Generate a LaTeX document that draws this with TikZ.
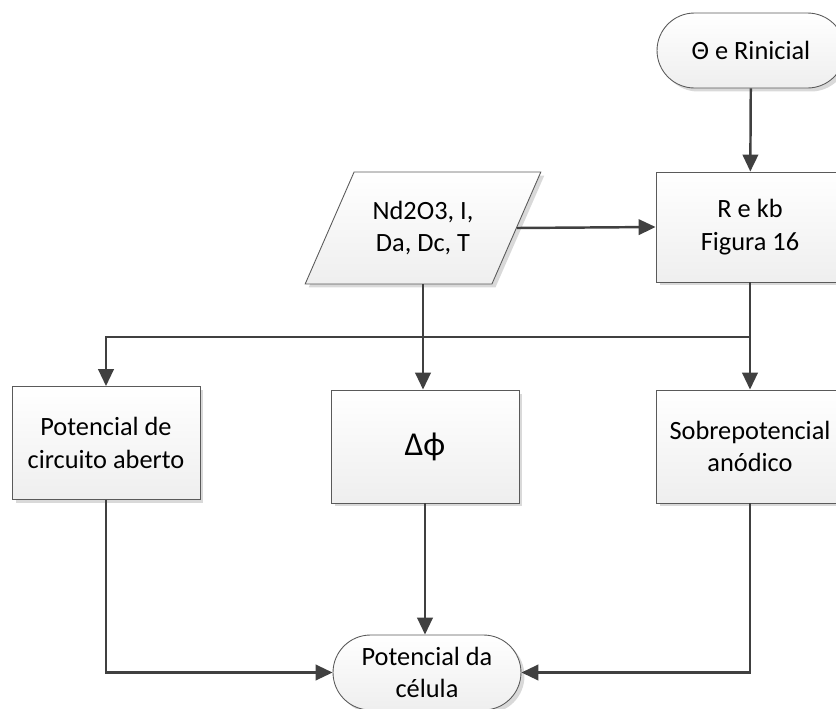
\documentclass[tikz,border=0pt]{standalone}
\usepackage{fontspec}
\setmainfont{Carlito}
\usetikzlibrary{arrows.meta,shapes.geometric,shadows}
\definecolor{linha}{HTML}{404040}
\definecolor{borda}{HTML}{5A5A5A}
\tikzset{
    bloco/.style={draw=borda, line width=0.5pt, top color=white, bottom color=gray!13,
        drop shadow={shadow xshift=0.07cm, shadow yshift=-0.07cm, fill=gray!30, opacity=1},
        align=center, font=\fontsize{15}{18.5}\selectfont, inner sep=2pt},
    caixa/.style={bloco, rectangle, minimum width=3.76cm, minimum height=2.26cm},
    terminal/.style={bloco, rectangle, rounded corners=0.75cm, minimum width=3.76cm, minimum height=1.5cm},
    entrada/.style={bloco, trapezium, trapezium left angle=58, trapezium right angle=122,
        trapezium stretches=true, minimum width=4.72cm, minimum height=2.24cm},
    seta/.style={draw=linha, line width=1.4pt, -{Triangle[length=0.34cm,width=0.31cm]}},
    linha/.style={draw=linha, line width=1.4pt}
}
\begin{document}
\begin{tikzpicture}[x=0.02cm, y=-0.02cm]
            \useasboundingbox (0,0) rectangle (836,708);
            \node[terminal] (inicio) at (751,50.5) {Θ e Rinicial};
            \node[caixa, minimum height=2.2cm] (rkb) at (750,227) {R e kb\\Figura 16};
            \node[entrada] (dados) at (423,228) {Nd2O3, I,\\Da, Dc, T};
            \node[caixa] (ocv) at (106,443) {Potencial de\\circuito aberto};
            \node[caixa, font=\fontsize{19}{22}\selectfont] (dphi) at (425,446.5) {Δϕ};
            \node[caixa] (sobre) at (750,446.5) {Sobrepotencial\\anódico};
            \node[terminal] (celula) at (427,672.5) {Potencial da\\célula};
            \coordinate (bus) at (750,337);
            \draw[seta] (inicio) -- (rkb);
            \draw[seta] (dados.east) -- (rkb.west);
            \draw[seta] (rkb.south) -- (bus) -| (ocv.north);
            \draw[seta] (bus) -- (sobre.north);
            \draw[seta] (dados.south) -- (dados.south |- dphi.north);
            \draw[seta] (dphi.south) -- (dphi.south |- celula.north);
            \draw[seta] (ocv.south) |- (celula.west);
            \draw[seta] (sobre.south) |- (celula.east);
        \end{tikzpicture}
\end{document}
